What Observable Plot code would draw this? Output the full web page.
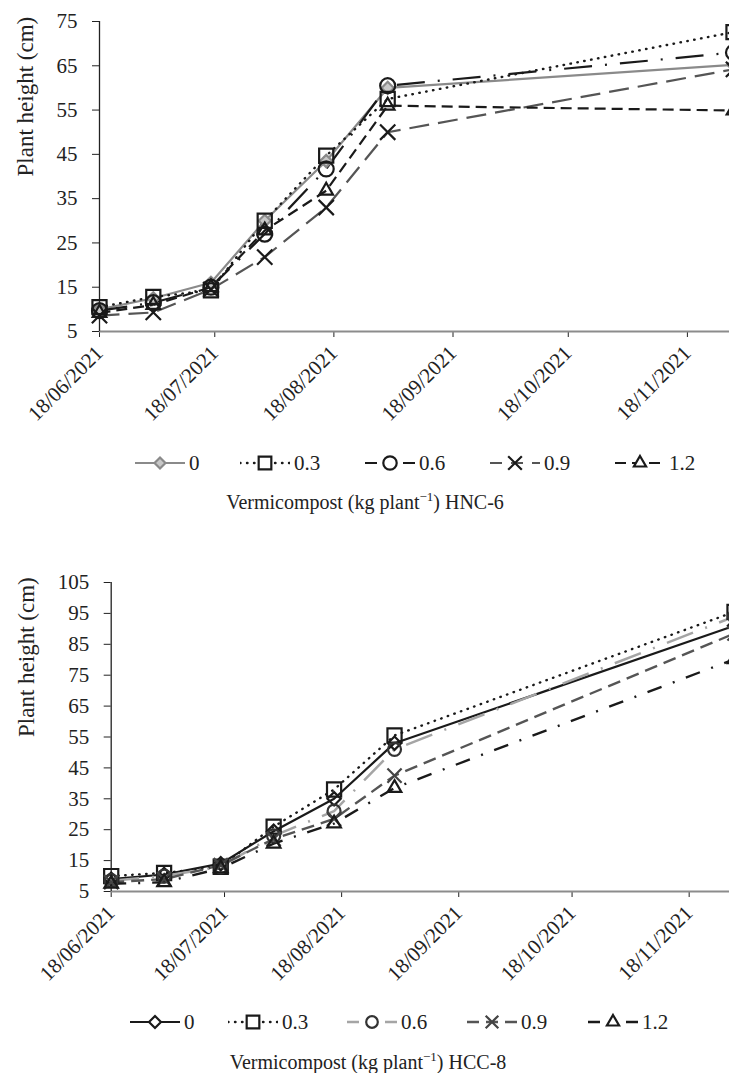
<!DOCTYPE html>
<html><head><meta charset="utf-8">
<script src="https://cdn.jsdelivr.net/npm/d3@7"></script>
<script src="https://cdn.jsdelivr.net/npm/@observablehq/plot@0.6"></script>
<style>
html,body{margin:0;padding:0;background:#fff;overflow:hidden;}
body{width:729px;height:1073px;position:relative;font-family:"Liberation Serif","DejaVu Serif","Times New Roman",Times,serif;color:#222;}
.block{position:absolute;left:0;}
.block svg{overflow:hidden;}
.block svg text{font-family:"Liberation Serif","DejaVu Serif","Times New Roman",Times,serif;}
.leg{position:absolute;display:flex;align-items:center;font-size:21px;line-height:21px;white-space:nowrap;}
.leg svg{display:block;margin-right:4px;}
.title{position:absolute;font-size:20px;line-height:20px;white-space:nowrap;transform:translateX(-50%);}
.title sup{font-size:13px;vertical-align:8px;line-height:0;}
</style></head><body>
<div id="top" class="block" style="top:0"></div>
<div id="legTop"></div>
<div id="titleTop" class="title" style="left:365px;top:492px">Vermicompost (kg plant<sup>−1</sup>) HNC-6</div>
<div id="bot" class="block" style="top:540px"></div>
<div id="legBot"></div>
<div id="titleBot" class="title" style="left:368px;top:1052px">Vermicompost (kg plant<sup>−1</sup>) HCC-8</div>
<script>
// ---------- data ----------
const dates = ["2021-06-18","2021-07-02","2021-07-17","2021-07-31","2021-08-16","2021-09-01","2021-11-30"];
const doses = ["0","0.3","0.6","0.9","1.2"];
const monthTicks = ["2021-06-18","2021-07-18","2021-08-18","2021-09-18","2021-10-18","2021-11-18"];
const yTicksHNC6 = [5,15,25,35,45,55,65,75];
const yTicksHCC8 = [5,15,25,35,45,55,65,75,85,95,105];

// HNC-6 plant height (cm)
const hnc6Dose0  = [10.0, 12.5, 16.0, 30.0, 43.5, 60.0, 65.2];
const hnc6Dose03 = [10.5, 12.8, 14.3, 30.0, 44.7, 57.5, 72.6];
const hnc6Dose06 = [9.7, 11.5, 15.0, 27.0, 41.7, 60.5, 68.0];
const hnc6Dose09 = [8.6, 9.3, 14.5, 21.8, 33.0, 50.0, 64.2];
const hnc6Dose12 = [9.2, 11.0, 15.0, 27.8, 36.8, 56.0, 54.9];

// HCC-8 plant height (cm)
const hcc8Dose0  = [9.0, 10.5, 14.0, 24.5, 35.0, 53.0, 91.0];
const hcc8Dose03 = [10.0, 11.0, 13.0, 26.0, 38.0, 55.5, 95.5];
const hcc8Dose06 = [8.5, 10.0, 13.0, 23.0, 31.0, 51.0, 94.0];
const hcc8Dose09 = [8.0, 9.0, 13.5, 22.0, 28.5, 42.5, 88.5];
const hcc8Dose12 = [7.5, 8.0, 12.5, 20.5, 27.0, 38.5, 80.2];

// ---------- styles ----------
const FONT = "'Liberation Serif', 'DejaVu Serif', 'Times New Roman', Times, serif";
const parse = d3.utcParse("%Y-%m-%d");
const fmt = d3.utcFormat("%d/%m/%Y");

const hncStyles = [
  {stroke:"#8a8a8a", dash:null, width:2.2, symbol:"diamond2", r:5.5, mstroke:"#8a8a8a", mfill:"#c8c8c8", cap:"butt"},
  {stroke:"#1a1a1a", dash:"0.5,6.5", width:2.4, symbol:"square2", r:9, mstroke:"#1a1a1a", mfill:"none", cap:"round"},
  {stroke:"#1a1a1a", dash:"28,13,2,13", width:2.2, symbol:"circle", r:7.5, mstroke:"#1a1a1a", mfill:"none", cap:"butt"},
  {stroke:"#555", dash:"20,9", width:2.2, symbol:"times", r:7, mstroke:"#1a1a1a", mfill:"none", cap:"butt"},
  {stroke:"#1a1a1a", dash:"11,6", width:2.2, symbol:"triangle2", r:6.5, mstroke:"#1a1a1a", mfill:"none", cap:"butt"}
];
const hccStyles = [
  {stroke:"#1a1a1a", dash:null, width:2.2, symbol:"diamond2", r:6, mstroke:"#1a1a1a", mfill:"none", cap:"butt"},
  {stroke:"#1a1a1a", dash:"0.5,6.5", width:2.4, symbol:"square2", r:9, mstroke:"#1a1a1a", mfill:"none", cap:"round"},
  {stroke:"#a5a5a5", dash:"28,13,2,13", width:2.5, symbol:"circle", r:6.5, mstroke:"#333", mfill:"none", cap:"butt"},
  {stroke:"#555", dash:"13,7", width:2.4, symbol:"times", r:6.5, mstroke:"#444", mfill:"none", cap:"butt"},
  {stroke:"#1a1a1a", dash:"15,12,2,12", width:2.4, symbol:"triangle2", r:6.5, mstroke:"#1a1a1a", mfill:"none", cap:"butt"}
];

function rows(seriesArrays) {
  const out = [];
  seriesArrays.forEach((vals, i) => vals.forEach((v, j) => out.push({dose: doses[i], date: parse(dates[j]), h: v})));
  return out;
}

function makeChart(el, seriesArrays, styles, cfg) {
  const data = rows(seriesArrays);
  const marks = [];
  marks.push(Plot.ruleY([cfg.yTicks[0]], {stroke:"#8c8c8c", strokeWidth:2.2}));
  marks.push(Plot.ruleX([parse(dates[0])], {stroke:"#222", strokeWidth:1.3}));
  doses.forEach((d, i) => {
    const s = styles[i];
    marks.push(Plot.line(data.filter(r => r.dose === d), {x:"date", y:"h", stroke:s.stroke, strokeWidth:s.width, strokeDasharray:s.dash || undefined, strokeLinecap:s.cap, strokeLinejoin:"round"}));
  });
  doses.forEach((d, i) => {
    const s = styles[i];
    marks.push(Plot.dot(data.filter(r => r.dose === d), {x:"date", y:"h", symbol:s.symbol, r:s.r, stroke:s.mstroke, fill:s.mfill, strokeWidth:2.2}));
  });
  marks.push(Plot.text(["Plant height (cm)"], {frameAnchor:"left", rotate:-90, dx:-cfg.labelDx, fontSize:23, fill:"#222"}));
  const chart = Plot.plot({
    width: 729, height: cfg.height,
    marginTop: cfg.mt, marginBottom: cfg.mb, marginLeft: cfg.x0, marginRight: 0,
    style: {fontFamily: FONT, fontSize:"21px", color:"#222", background:"transparent", overflow:"hidden"},
    x: {type:"utc", domain:[parse(dates[0]), parse(dates[dates.length-1])], range:[cfg.x0, cfg.x1],
        ticks: monthTicks.map(parse), tickFormat: fmt, tickRotate:-45, tickSize:6, tickPadding:12, label:null},
    y: {domain:[cfg.yTicks[0], cfg.yTicks[cfg.yTicks.length-1]], ticks: cfg.yTicks, tickSize:7, tickPadding:15, label:null},
    marks
  });
  document.getElementById(el).appendChild(chart);
}

makeChart("top", [hnc6Dose0, hnc6Dose03, hnc6Dose06, hnc6Dose09, hnc6Dose12], hncStyles,
  {height:425, mt:21, mb:94, x0:99, x1:733, yTicks:yTicksHNC6, labelDx:74});
makeChart("bot", [hcc8Dose0, hcc8Dose03, hcc8Dose06, hcc8Dose09, hcc8Dose12], hccStyles,
  {height:450, mt:42, mb:99, x0:110.7, x1:734, yTicks:yTicksHCC8, labelDx:85});

// ---------- legends ----------
const symMap = {diamond2:d3.symbolDiamond2, square2:d3.symbolSquare2, circle:d3.symbolCircle, times:d3.symbolTimes, triangle2:d3.symbolTriangle2};
function makeLegend(id, styles, lefts, topY) {
  const host = document.getElementById(id);
  doses.forEach((d, i) => {
    const s = styles[i];
    const item = document.createElement("div");
    item.className = "leg";
    item.style.left = lefts[i] + "px";
    item.style.top = topY + "px";
    const svg = d3.create("svg").attr("width", 50).attr("height", 22);
    svg.append("line").attr("x1", 0).attr("x2", 50).attr("y1", 11).attr("y2", 11)
      .attr("stroke", s.stroke).attr("stroke-width", s.width)
      .attr("stroke-dasharray", s.dash ? s.dash.split(",").map(v => Math.min(+v, 12)).join(",") : null)
      .attr("stroke-linecap", s.cap);
    svg.append("path").attr("transform", "translate(25,11)")
      .attr("d", d3.symbol(symMap[s.symbol], Math.PI * s.r * s.r * 0.8)())
      .attr("fill", s.mfill === "none" ? "#fff" : s.mfill).attr("stroke", s.mstroke).attr("stroke-width", 2.2);
    item.appendChild(svg.node());
    const lab = document.createElement("span");
    lab.textContent = d;
    item.appendChild(lab);
    host.appendChild(item);
  });
}
makeLegend("legTop", hncStyles, [135, 240, 365, 490, 615], 452);
makeLegend("legBot", hccStyles, [130, 228, 347, 467, 588], 1011);
</script>
</body></html>
